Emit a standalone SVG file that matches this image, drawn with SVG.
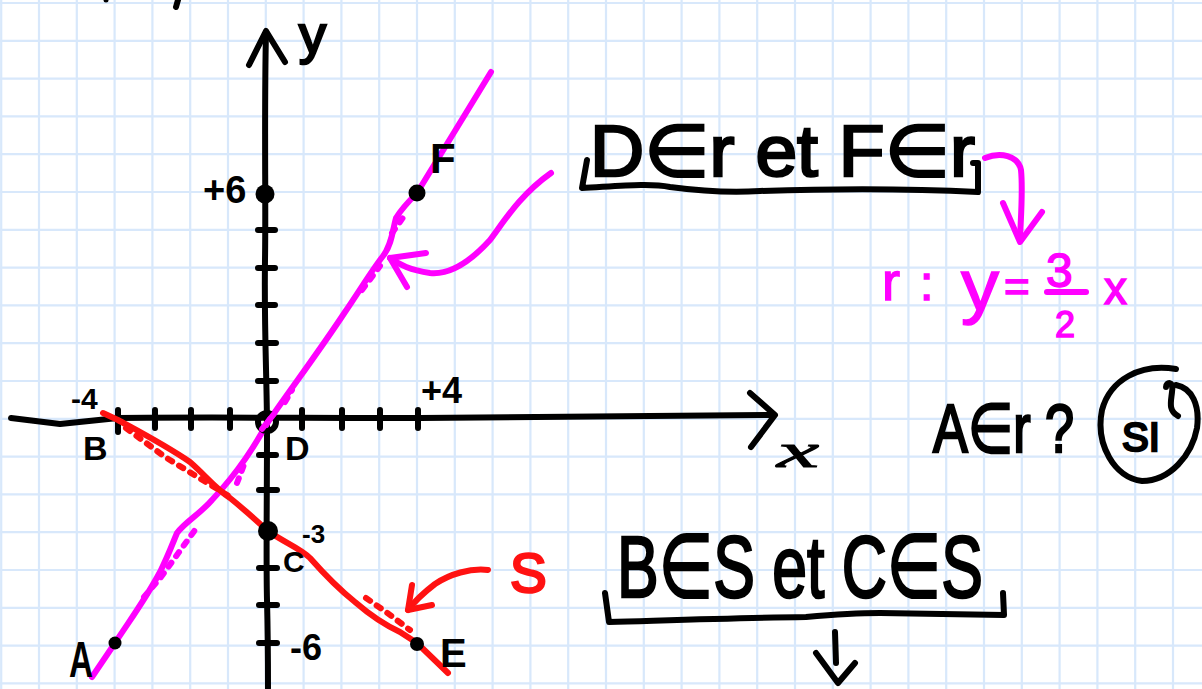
<svg xmlns="http://www.w3.org/2000/svg" width="1202" height="689" viewBox="0 0 1202 689">
<style>
.grid{stroke:#d8e8fb;stroke-width:2.2;fill:none}
.ink{stroke:#000;stroke-width:6;fill:none;stroke-linecap:round;stroke-linejoin:round}
.mag{stroke:#ff00ff;stroke-width:6;fill:none;stroke-linecap:round;stroke-linejoin:round}
.red{stroke:#ff1212;stroke-width:6;fill:none;stroke-linecap:round;stroke-linejoin:round}
.t{font-family:"Liberation Sans","DejaVu Sans",sans-serif;font-weight:bold;fill:#000}
.h{font-family:"Liberation Sans","DejaVu Sans",sans-serif;font-weight:normal;fill:#000;stroke:#000;stroke-width:2.5}
.hm{font-family:"Liberation Sans","DejaVu Sans",sans-serif;fill:#ff00ff;stroke:#ff00ff;stroke-width:1.5}
.hr{font-family:"Liberation Sans","DejaVu Sans",sans-serif;fill:#ff1212;stroke:#ff1212;stroke-width:2.5}
</style>
<rect width="1202" height="689" fill="#ffffff"/>
<g id="grid">
<path class="grid" d="M1.2,0V689M39,0V689M76.8,0V689M114.6,0V689M152.4,0V689M190.2,0V689M228,0V689M265.8,0V689M303.6,0V689M341.4,0V689M379.2,0V689M417,0V689M454.8,0V689M492.6,0V689M530.4,0V689M568.2,0V689M606,0V689M643.8,0V689M681.6,0V689M719.4,0V689M757.2,0V689M795,0V689M832.8,0V689M870.6,0V689M908.4,0V689M946.2,0V689M984,0V689M1021.8,0V689M1059.6,0V689M1097.4,0V689M1135.2,0V689M1173,0V689"/>
<path class="grid" d="M0,3H1202M0,40.8H1202M0,78.6H1202M0,116.4H1202M0,154.2H1202M0,192H1202M0,229.8H1202M0,267.6H1202M0,305.4H1202M0,343.2H1202M0,381H1202M0,418.8H1202M0,456.6H1202M0,494.4H1202M0,532.2H1202M0,570H1202M0,607.8H1202M0,645.6H1202M0,683.4H1202"/>
</g>
<g id="topmarks">
<circle cx="106" cy="0" r="2.5" fill="#000"/>
<path class="ink" d="M178,0 L176,7" stroke-width="6"/>
</g>
<g id="axes">
<path class="ink" d="M266,32 C264,120 266,200 265,260 C264,330 267,380 267,430 C267,500 266,560 267,600 C268,640 268,670 268,688"/>
<path class="ink" d="M249,65 L266,31 L285,62"/>
<path class="ink" d="M11,418 L60,424 L118,418 C200,417 300,418 420,418 C560,417 680,416 773,415"/>
<path class="ink" d="M750,393 L775,415 L751,447"/>
<path class="ink" stroke-width="5" d="M155,410V428M191,410V428M230,410V428M302,410V428M342,410V428M380,410V428M418,410V428M118,410V432"/>
<path class="ink" stroke-width="5" d="M258,230H275M258,268H275M258,305H275M258,343H276M258,381H276M259,455H276M259,490H277M259,568H277M259,605H277M259,643H277"/>
</g>
<g id="line-r">
<path class="mag" d="M92,677 L115,643 C130,620 145,600 160,572 C168,556 172,545 177,533 C185,522 200,514 212,500 C240,470 255,445 268,422 C290,390 320,350 345,312 C360,290 372,270 383,256 C392,245 393,228 396,218 C402,208 410,200 417,193 L491,72"/>
<path class="mag" stroke-width="5" stroke-dasharray="5 8" d="M144,597 L161,577 L195,530 M237,483 L245,462 M285,402 L292,390 M362,290 L380,266 M392,233 L407,212"/>
</g>
<g id="line-s">
<path class="red" d="M103,413 L118,420 C140,432 165,445 190,462 C205,475 215,488 230,498 C245,510 258,522 268,531 C285,543 300,548 310,558 C325,575 340,590 355,602 C370,615 385,625 400,632 L417,643 L448,673"/>
<path class="red" stroke-width="5" stroke-dasharray="5 8" d="M126,428 L165,457 L196,476 L232,498 M366,598 L386,612 L410,630"/>
</g>
<g id="points">
<circle cx="265" cy="194" r="9.5" fill="#000"/>
<circle cx="417" cy="193" r="8.5" fill="#000"/>
<circle cx="268" cy="531" r="10" fill="#000"/>
<circle cx="417" cy="644" r="7" fill="#000"/>
<circle cx="115" cy="643" r="6.5" fill="#000"/>
<circle cx="267" cy="422" r="9" fill="none" stroke="#000" stroke-width="6"/>
<path class="mag" stroke-width="4" d="M262,429 L274,414"/>
</g>
<g id="axis-labels">
<text class="h" x="299" y="53" font-size="54" stroke-width="1.5">y</text>
<text x="777" y="467" font-family="Liberation Serif, serif" font-style="italic" font-size="48" fill="#000" stroke="#000" stroke-width="1" textLength="42" lengthAdjust="spacingAndGlyphs">x</text>
<text class="t" x="203" y="203" font-size="38">+6</text>
<text class="t" x="71" y="409" font-size="30">-4</text>
<text class="t" x="421" y="403" font-size="36">+4</text>
<text class="t" x="83" y="460" font-size="34">B</text>
<text class="t" x="285" y="460" font-size="34">D</text>
<text class="t" x="302" y="543" font-size="26">-3</text>
<text class="t" x="283" y="572" font-size="30">C</text>
<text class="t" x="290" y="660" font-size="36">-6</text>
<text class="t" x="69" y="677" font-size="50" textLength="24" lengthAdjust="spacingAndGlyphs">A</text>
<text class="t" x="440" y="667" font-size="40">E</text>
<text class="t" x="430" y="173" font-size="42">F</text>
</g>
<g id="arrow-r">
<path class="mag" d="M551,173 C520,195 505,220 490,240 C470,262 450,275 430,273 C410,270 400,265 390,258"/>
<path class="mag" d="M426,253 L390,258 L407,287"/>
</g>
<g id="arrow-s">
<path class="red" d="M488,570 C470,568 450,574 435,584 C422,594 414,602 408,610"/>
<path class="red" d="M412,585 L408,610 L432,605"/>
<text class="hr" x="510" y="592" font-size="55">S</text>
</g>
<g id="statement-r">
<text class="h" x="590" y="176" font-size="72" stroke-width="1.5" textLength="385" lengthAdjust="spacingAndGlyphs">D∈r et F∈r</text>
<path class="ink" d="M587,160 L582,188 C620,186 650,183 670,187 C700,191 730,193 760,191 C820,189 900,188 978,192 L978,163 L973,163"/>
<path class="mag" d="M985,158 C1000,152 1018,155 1021,170 C1023,190 1021,215 1020,238"/>
<path class="mag" d="M1003,203 L1020,242 L1042,212"/>
</g>
<g id="equation-r">
<text class="hm" x="882" y="300" font-size="54">r</text>
<text class="hm" x="920" y="300" font-size="48">:</text>
<text class="hm" x="961" y="310" font-size="72" textLength="38" lengthAdjust="spacingAndGlyphs">y</text>
<text class="hm" x="1004" y="302" font-size="44">=</text>
<text class="hm" x="1046" y="287" font-size="48">3</text>
<path class="mag" d="M1047,292 L1086,292"/>
<text class="hm" x="1055" y="337" font-size="36">2</text>
<text class="hm" x="1104" y="304" font-size="46">x</text>
</g>
<g id="question">
<text class="h" x="933" y="452" font-size="68" stroke-width="1.5" textLength="141" lengthAdjust="spacingAndGlyphs">A∈r ?</text>
<path class="ink" d="M1176,369 C1140,363 1110,380 1102,410 C1095,445 1115,478 1142,481 C1170,481 1192,455 1197,428 C1200,405 1192,388 1176,385"/>
<text class="h" x="1122" y="451" font-size="40" stroke-width="1">SI</text>
<path class="ink" d="M1166,387 C1166,382 1174,380 1172,392 C1171,402 1168,410 1178,416" stroke-width="5"/>
</g>
<g id="statement-s">
<text class="h" x="617" y="597" font-size="88" stroke-width="1.5" textLength="366" lengthAdjust="spacingAndGlyphs">B∈S et C∈S</text>
<path class="ink" d="M605,593 L609,622 C680,620 740,618 806,617 C840,614 860,613 880,613 L1004,615 L1003,593"/>
<path class="ink" d="M835,632 L836,663 M816,653 L838,683 L855,663"/>
</g>
</svg>
